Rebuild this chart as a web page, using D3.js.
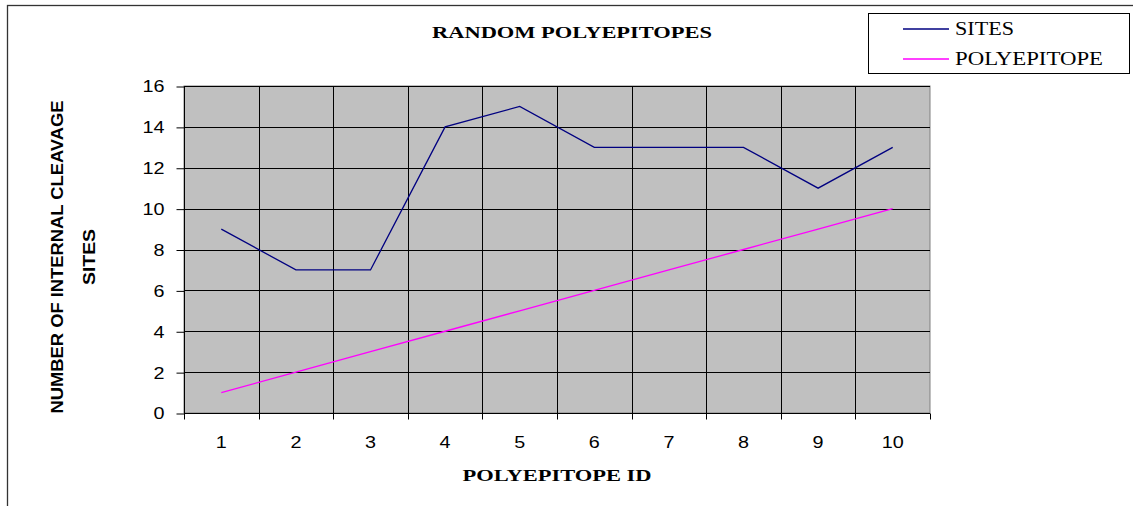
<!DOCTYPE html>
<html><head><meta charset="utf-8">
<script src="https://cdn.jsdelivr.net/npm/d3@7"></script>
<style>body{margin:0;background:#fff}svg{display:block}</style>
</head><body>
<svg id="c" width="1133" height="506"></svg>
<script>
const categories = [1,2,3,4,5,6,7,8,9,10];
const sites = [9,7,7,14,15,13,13,13,11,13];
const polyepitope = [1,2,3,4,5,6,7,8,9,10];
const yTicks = [0,2,4,6,8,10,12,14,16];
const seriesNames = ["SITES","POLYEPITOPE"];
const seriesColors = ["#000080","#FF00FF"];
const legendWidths = [59,148];

const svg = d3.select("#c");
const L=184, R=930, T=86, B=413;

svg.append("rect").attr("x",7.5).attr("y",5.5).attr("width",1140).attr("height",520)
  .attr("fill","none").attr("stroke","#333").attr("stroke-width",1.3);

const x = d3.scaleBand().domain(categories).range([L,R]);
const y = d3.scaleLinear().domain([0,16]).range([B,T]);

svg.append("rect").attr("x",L).attr("y",T).attr("width",R-L).attr("height",B-T)
  .attr("fill","#C0C0C0").attr("stroke","#808080").attr("stroke-width",1);

// horizontal grid
svg.append("g").selectAll("line").data(yTicks.filter(d=>d>0)).join("line")
  .attr("x1",L).attr("x2",R).attr("y1",d=>Math.round(y(d))+0.5).attr("y2",d=>Math.round(y(d))+0.5)
  .attr("stroke","#000").attr("stroke-width",1);
// vertical grid
svg.append("g").selectAll("line").data(categories.slice(1)).join("line")
  .attr("x1",d=>Math.round(x(d))+0.5).attr("x2",d=>Math.round(x(d))+0.5).attr("y1",T).attr("y2",B)
  .attr("stroke","#000").attr("stroke-width",1);

// y axis
const yAxis = d3.axisLeft(y).tickValues(yTicks).tickSize(8).tickPadding(12);
const gy = svg.append("g").attr("transform",`translate(${L+0.5},0.5)`).call(yAxis);
gy.selectAll("text").attr("font-family","Liberation Sans, Arial").attr("font-size",17).attr("fill","#000")
  .attr("textLength",d=>String(d).length*11).attr("lengthAdjust","spacingAndGlyphs");
gy.selectAll("line,path").attr("stroke","#000");
gy.select(".domain").attr("d",`M0,${T}V${B}`);

// x axis: ticks at band boundaries
const gx = svg.append("g").attr("transform",`translate(0,${B+0.5})`);
gx.append("line").attr("x1",L).attr("x2",R).attr("stroke","#000");
gx.selectAll("line.t").data(categories.concat(["end"])).join("line").attr("class","t")
  .attr("x1",(d,i)=>Math.round(i<categories.length?x(d):R)+0.5)
  .attr("x2",(d,i)=>Math.round(i<categories.length?x(d):R)+0.5)
  .attr("y1",0).attr("y2",6).attr("stroke","#000");
gx.selectAll("text").data(categories).join("text")
  .attr("x",d=>x(d)+x.bandwidth()/2).attr("y",34).attr("text-anchor","middle")
  .attr("font-family","Liberation Sans, Arial").attr("font-size",17)
  .attr("textLength",d=>String(d).length*11).attr("lengthAdjust","spacingAndGlyphs").text(d=>d);

// lines
const line = d3.line().x((d,i)=>x(categories[i])+x.bandwidth()/2).y(d=>y(d));
[sites,polyepitope].forEach((s,i)=>{
  svg.append("path").datum(s).attr("d",line).attr("fill","none")
    .attr("stroke",seriesColors[i]).attr("stroke-width",1.3);
});

// title
svg.append("text").attr("x",572).attr("y",38).attr("text-anchor","middle")
  .attr("font-family","Liberation Serif, Times New Roman").attr("font-weight","bold")
  .attr("font-size",16).attr("textLength",280).attr("lengthAdjust","spacingAndGlyphs")
  .text("RANDOM POLYEPITOPES");

// x label
svg.append("text").attr("x",557).attr("y",481).attr("text-anchor","middle")
  .attr("font-family","Liberation Serif, Times New Roman").attr("font-weight","bold")
  .attr("font-size",16).attr("textLength",189).attr("lengthAdjust","spacingAndGlyphs")
  .text("POLYEPITOPE ID");

// y label
const yl = svg.append("g").attr("transform","translate(0,257) rotate(-90)");
yl.append("text").attr("x",0).attr("y",63).attr("text-anchor","middle")
  .attr("font-family","Liberation Sans, Arial").attr("font-weight","bold").attr("font-size",16)
  .attr("textLength",313).attr("lengthAdjust","spacingAndGlyphs")
  .text("NUMBER OF INTERNAL CLEAVAGE");
yl.append("text").attr("x",0).attr("y",95).attr("text-anchor","middle")
  .attr("font-family","Liberation Sans, Arial").attr("font-weight","bold").attr("font-size",16)
  .attr("textLength",56).attr("lengthAdjust","spacingAndGlyphs")
  .text("SITES");

// legend
const lg = svg.append("g");
lg.append("rect").attr("x",868.5).attr("y",13.5).attr("width",261).attr("height",60)
  .attr("fill","#fff").attr("stroke","#000").attr("stroke-width",1);
seriesNames.forEach((n,i)=>{
  const yy = 29 + i*30;
  lg.append("line").attr("x1",903).attr("x2",949).attr("y1",yy).attr("y2",yy)
    .attr("stroke",seriesColors[i]).attr("stroke-width",1.3);
  lg.append("text").attr("x",955).attr("y",yy+6).attr("font-family","Liberation Serif, Times New Roman")
    .attr("font-size",18).attr("textLength",legendWidths[i]).attr("lengthAdjust","spacingAndGlyphs").text(n);
});
</script>
</body></html>
